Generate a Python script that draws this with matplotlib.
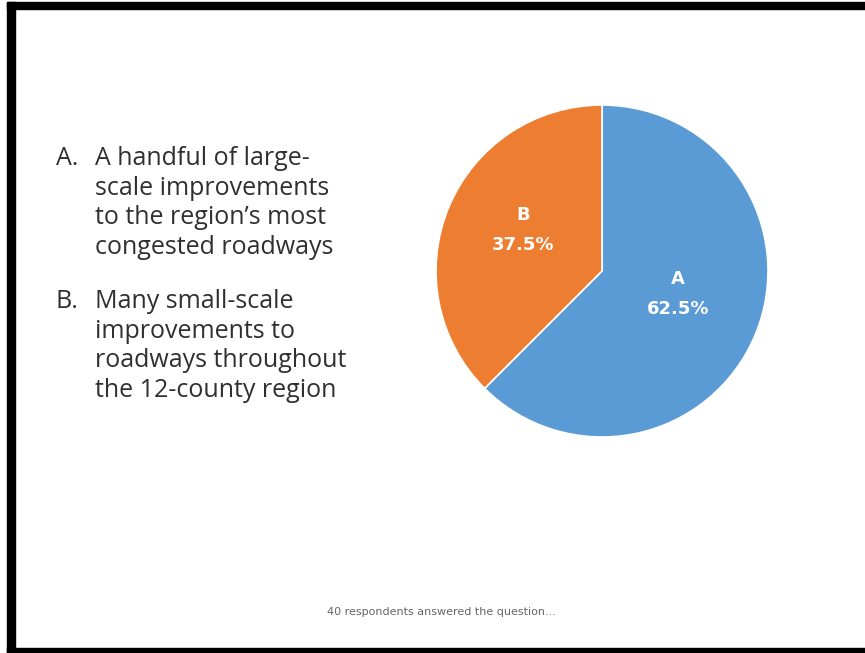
import matplotlib
matplotlib.use('Agg')
import matplotlib.pyplot as plt
from matplotlib.patches import Rectangle
from matplotlib.transforms import offset_copy
import numpy as np

options = ['A', 'B']
shares = [62.5, 37.5]
colors = ['#5B9BD5', '#ED7D31']
answers = [
    ['A handful of large-', 'scale improvements', 'to the region\u2019s most', 'congested roadways'],
    ['Many small-scale', 'improvements to', 'roadways throughout', 'the 12-county region'],
]
note = '40 respondents answered the question...'

W, H = 865, 653
fig = plt.figure(figsize=(W / 100, H / 100), dpi=100)
fig.patch.set_facecolor('white')

def px(x, y):
    return x / W, 1 - y / H

# slide frame (black bars top, left, bottom)
for x0, y0, w, h in [(7, 2, 858, 7), (7, 2, 8, 651), (7, 648, 858, 5)]:
    fig.patches.append(Rectangle(px(x0, y0 + h), w / W, h / H,
                                 transform=fig.transFigure, color='black', zorder=0))

# answer list on the left, one line at a time on baselines
font = 'Open Sans'
base = 165
for opt, lines in zip(options, answers):
    fig.text(*px(56, base), opt + '.', fontsize=18, family=font, color='#303030',
             va='baseline', ha='left')
    for i, line in enumerate(lines):
        fig.text(*px(95, base + i * 29.7), line, fontsize=18, family=font,
                 color='#303030', va='baseline', ha='left')
    base += 143

cx, cy, r = 602, 271, 166
ax = fig.add_axes([(cx - r) / W, 1 - (cy + r) / H, 2 * r / W, 2 * r / H])
labels = [f'{o}\n{s}%' for o, s in zip(options, shares)]
wedges, texts = ax.pie(shares, colors=colors, startangle=90, counterclock=False,
                       labels=labels, labeldistance=0.45,
                       wedgeprops=dict(edgecolor='white', linewidth=1.2),
                       textprops=dict(color='white', fontsize=13, fontweight='bold',
                                      family='DejaVu Sans', linespacing=1.85))
for t, d in zip(texts, [0.47, 0.54]):
    x, y = t.get_position()
    n = np.hypot(x, y)
    t.set_position((x / n * d, y / n * d))
    t.set_ha('center')
    t.set_va('center')
    t.set_transform(offset_copy(ax.transData, fig=fig, x=4, y=7, units='dots'))
ax.set_xlim(-1, 1)
ax.set_ylim(-1, 1)
ax.set_aspect('equal')

fig.text(*px(441, 612), note, fontsize=8, color='#666666', ha='center', va='center')

fig.savefig('out.png', dpi=100)
